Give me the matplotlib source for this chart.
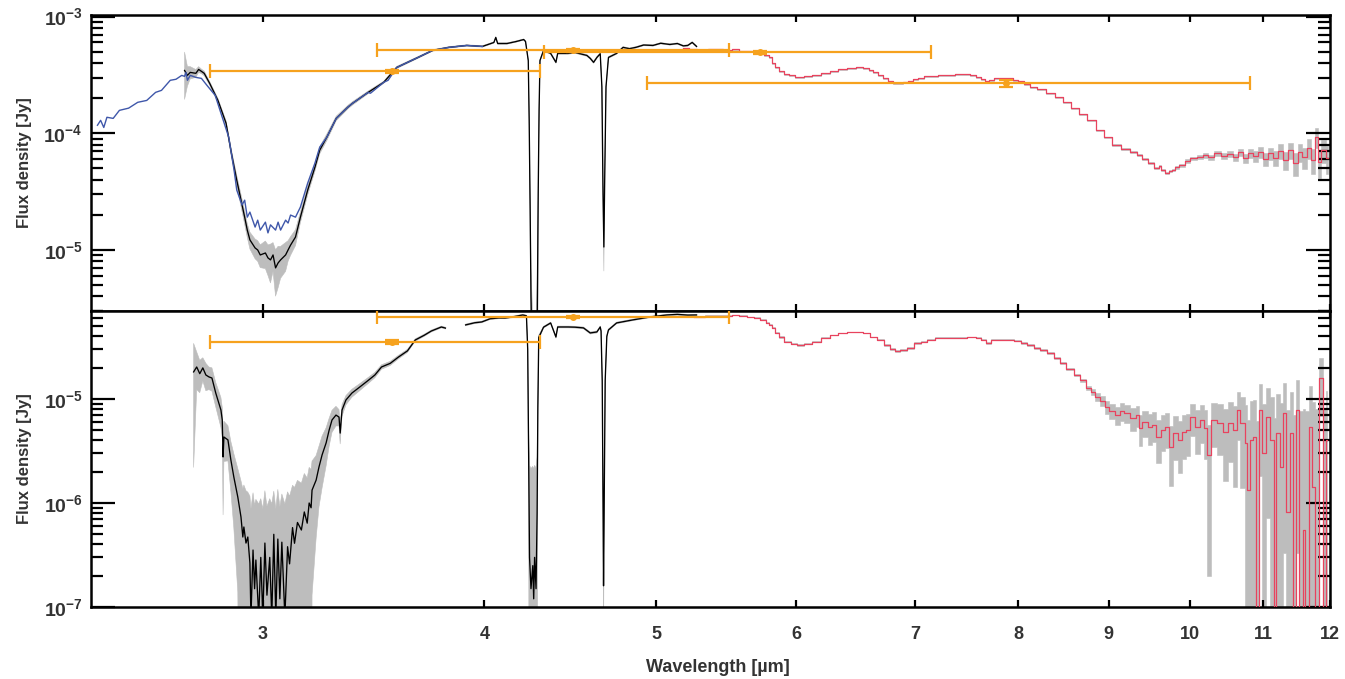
import numpy as np
import matplotlib
matplotlib.use("Agg")
import matplotlib.pyplot as plt
from matplotlib.ticker import LogLocator, FixedLocator, NullLocator, NullFormatter, LogFormatterMathtext

plt.rcParams['font.family'] = ['Liberation Sans', 'DejaVu Sans']
plt.rcParams['font.weight'] = 'bold'
plt.rcParams['mathtext.fontset'] = 'custom'
plt.rcParams['mathtext.rm'] = 'Liberation Sans:bold'
plt.rcParams['mathtext.bf'] = 'Liberation Sans:bold'
plt.rcParams['mathtext.default'] = 'rm'

# ---------------- top panel ----------------
top_blue_wl = [2.42, 2.43, 2.44, 2.45, 2.47, 2.49, 2.52, 2.55, 2.58, 2.61,
               2.63, 2.66, 2.68, 2.70, 2.71, 2.715, 2.72, 2.73, 2.75, 2.77,
               2.79, 2.82, 2.84, 2.87, 2.89, 2.90, 2.92, 2.93, 2.94, 2.95,
               2.97, 2.98, 2.99, 3.01, 3.02, 3.03, 3.05, 3.06, 3.07, 3.09,
               3.10, 3.11, 3.13, 3.15, 3.18, 3.21, 3.23, 3.26, 3.30, 3.35,
               3.37, 3.44, 3.45, 3.51, 3.53, 3.57, 3.67, 3.74, 3.82, 3.91, 3.99]
top_blue_flux = [1.17e-4, 1.29e-4, 1.12e-4, 1.37e-4, 1.34e-4, 1.57e-4, 1.64e-4, 1.84e-4, 1.91e-4, 2.24e-4,
                 2.33e-4, 2.84e-4, 2.90e-4, 3.13e-4, 3.07e-4, 3.32e-4, 2.84e-4, 3.13e-4, 3.01e-4, 2.95e-4,
                 2.57e-4, 2.11e-4, 1.51e-4, 9.25e-5, 4.83e-5, 3.26e-5, 2.43e-5, 2.67e-5, 1.91e-5, 2.11e-5,
                 1.57e-5, 1.80e-5, 1.48e-5, 1.73e-5, 1.40e-5, 1.64e-5, 1.48e-5, 1.73e-5, 1.48e-5, 1.80e-5,
                 1.70e-5, 1.99e-5, 1.91e-5, 2.33e-5, 3.74e-5, 5.54e-5, 7.59e-5, 9.25e-5, 1.34e-4, 1.67e-4,
                 1.80e-4, 2.24e-4, 2.20e-4, 2.73e-4, 2.84e-4, 3.66e-4, 4.46e-4, 5.12e-4, 5.44e-4, 5.65e-4, 5.54e-4]

top_black_wl = [2.71, 2.72, 2.73, 2.75, 2.76, 2.77, 2.78, 2.79, 2.80, 2.83,
                2.86, 2.88, 2.90, 2.93, 2.94, 2.95, 2.97, 2.98, 2.99, 3.01,
                3.02, 3.03, 3.04, 3.05, 3.06, 3.07, 3.09, 3.10, 3.11, 3.13,
                3.15, 3.18, 3.21, 3.23, 3.26, 3.30, 3.35, 3.37, 3.44, 3.51,
                3.57, 3.67, 3.74, 3.82, 3.91, 3.99, 4.05, 4.06, 4.07, 4.12,
                4.17, 4.21, 4.22, 4.235, 4.24, 4.245, 4.25, 4.26, 4.27, 4.28,
                4.285, 4.29, 4.295, 4.30, 4.32, 4.36, 4.39, 4.40, 4.46, 4.50,
                4.57, 4.59, 4.61, 4.63, 4.65, 4.66, 4.667, 4.672, 4.677, 4.685,
                4.70, 4.75, 4.79, 4.83, 4.87, 4.92, 4.98, 5.03, 5.09, 5.14,
                5.18, 5.21, 5.24, 5.27]
top_black_flux = [3.45e-4, 3.13e-4, 3.32e-4, 3.26e-4, 3.52e-4, 3.39e-4, 3.26e-4, 2.95e-4, 2.67e-4, 1.91e-4,
                  1.22e-4, 6.74e-5, 3.96e-5, 1.91e-5, 1.48e-5, 1.22e-5, 1.04e-5, 1.00e-5, 9.06e-6, 9.42e-6,
                  8.55e-6, 8.22e-6, 9.06e-6, 7.02e-6, 7.74e-6, 8.22e-6, 9.06e-6, 1.00e-5, 1.10e-5, 1.29e-5,
                  1.91e-5, 3.26e-5, 5.12e-5, 7.16e-5, 9.25e-5, 1.34e-4, 1.67e-4, 1.80e-4, 2.24e-4, 2.73e-4,
                  3.66e-4, 4.46e-4, 5.12e-4, 5.44e-4, 5.65e-4, 5.54e-4, 5.99e-4, 6.62e-4, 5.87e-4, 5.87e-4,
                  6.11e-4, 6.35e-4, 6.11e-4, 4.2e-4, 1.3e-4, 2.5e-5, 4.0e-6, 6.0e-7, 1.5e-7, 5.0e-7,
                  3.0e-6, 3.0e-5, 1.6e-4, 4.2e-4, 5.12e-4, 4.83e-4, 4.05e-4, 4.83e-4, 4.83e-4, 4.92e-4,
                  4.64e-4, 4.38e-4, 4.05e-4, 4.46e-4, 4.8e-4, 2.5e-4, 3.0e-5, 1.06e-5, 4.0e-5, 2.5e-4,
                  4.46e-4, 4.83e-4, 5.44e-4, 5.3e-4, 5.44e-4, 5.7e-4, 5.65e-4, 5.9e-4, 5.76e-4, 5.87e-4,
                  5.6e-4, 5.65e-4, 6.0e-4, 5.54e-4]
top_black_err = [1.5e-4, 6e-5, 4e-5, 2.5e-5, 2e-5, 1.5e-5, 1.5e-5, 1.2e-5, 1e-5, 8e-6,
                 6e-6, 5e-6, 4e-6, 2.5e-6, 2e-6, 2e-6, 2e-6, 2e-6, 2e-6, 2.5e-6,
                 2.5e-6, 3e-6, 2.5e-6, 3e-6, 3e-6, 2.5e-6, 2.5e-6, 2e-6, 2e-6, 2e-6,
                 2e-6, 3e-6, 4e-6, 5e-6, 6e-6, 6e-6, 6e-6, 6e-6, 6e-6, 6e-6,
                 8e-6, 8e-6, 8e-6, 8e-6, 8e-6, 8e-6, 8e-6, 8e-6, 8e-6, 8e-6,
                 8e-6, 8e-6, 8e-6, 8e-6, 8e-6, 5e-6, 3e-6, 2e-6, 2e-6, 2e-6,
                 3e-6, 5e-6, 8e-6, 8e-6, 8e-6, 8e-6, 8e-6, 8e-6, 8e-6, 8e-6,
                 8e-6, 8e-6, 8e-6, 8e-6, 8e-6, 8e-6, 5e-6, 4e-6, 5e-6, 8e-6,
                 8e-6, 8e-6, 8e-6, 8e-6, 8e-6, 8e-6, 8e-6, 8e-6, 8e-6, 8e-6,
                 8e-6, 8e-6, 8e-6, 8e-6]

top_red_wl = [5.18, 5.25, 5.29, 5.41, 5.50, 5.53, 5.60, 5.65, 5.72, 5.78,
              5.80, 5.82, 5.85, 5.88, 5.93, 5.95, 6.03, 6.09, 6.16, 6.23,
              6.30, 6.37, 6.44, 6.52, 6.57, 6.61, 6.65, 6.69, 6.74, 6.78,
              6.82, 6.87, 6.91, 6.96, 7.00, 7.05, 7.11, 7.17, 7.25, 7.33,
              7.42, 7.49, 7.55, 7.60, 7.65, 7.69, 7.72, 7.79, 7.85, 7.92,
              7.97, 8.03, 8.10, 8.16, 8.24, 8.35, 8.43, 8.53, 8.62, 8.71,
              8.79, 8.91, 8.98, 9.10, 9.20, 9.30, 9.37, 9.44, 9.50, 9.59,
              9.62, 9.66, 9.72, 9.75, 9.79, 9.84, 9.88, 9.92, 9.97, 10.05,
              10.14, 10.20, 10.27, 10.37, 10.45, 10.55, 10.62, 10.68, 10.75, 10.82,
              10.89, 10.96, 11.03, 11.10, 11.18, 11.25, 11.32, 11.39, 11.47, 11.54,
              11.61, 11.68, 11.73, 11.79, 11.83, 11.90, 11.97]
top_red_flux = [5.33e-4, 5.22e-4, 5.12e-4, 5.22e-4, 5.12e-4, 5.22e-4, 5.02e-4, 5.02e-4, 4.92e-4, 4.64e-4,
                4.46e-4, 3.97e-4, 3.66e-4, 3.39e-4, 3.19e-4, 3.13e-4, 3.01e-4, 3.07e-4, 3.13e-4, 3.26e-4,
                3.39e-4, 3.52e-4, 3.60e-4, 3.66e-4, 3.60e-4, 3.45e-4, 3.32e-4, 3.13e-4, 2.95e-4, 2.78e-4,
                2.67e-4, 2.67e-4, 2.73e-4, 2.78e-4, 2.90e-4, 2.95e-4, 3.07e-4, 3.07e-4, 3.13e-4, 3.13e-4,
                3.19e-4, 3.19e-4, 3.13e-4, 3.01e-4, 2.90e-4, 2.78e-4, 2.84e-4, 2.95e-4, 2.95e-4, 2.95e-4,
                2.84e-4, 2.78e-4, 2.62e-4, 2.47e-4, 2.38e-4, 2.20e-4, 2.03e-4, 1.84e-4, 1.64e-4, 1.45e-4,
                1.29e-4, 1.06e-4, 9.25e-5, 7.89e-5, 7.30e-5, 6.88e-5, 6.49e-5, 6.00e-5, 5.54e-5, 5.02e-5,
                5.22e-5, 4.83e-5, 4.55e-5, 4.73e-5, 4.83e-5, 5.12e-5, 5.33e-5, 5.33e-5, 5.77e-5, 6.11e-5,
                6.24e-5, 6.49e-5, 6.24e-5, 6.74e-5, 6.36e-5, 6.62e-5, 6.24e-5, 6.88e-5, 6.11e-5, 6.74e-5,
                6.36e-5, 6.88e-5, 6.00e-5, 6.74e-5, 6.11e-5, 7.02e-5, 5.88e-5, 7.16e-5, 5.54e-5, 6.88e-5,
                6.24e-5, 7.44e-5, 5.88e-5, 9.25e-5, 5.65e-5, 7.16e-5, 6.11e-5]
top_red_err = [5e-6, 5e-6, 5e-6, 5e-6, 5e-6, 5e-6, 5e-6, 5e-6, 5e-6, 5e-6,
               4e-6, 4e-6, 4e-6, 4e-6, 3e-6, 3e-6, 3e-6, 3e-6, 3e-6, 3e-6,
               3e-6, 3e-6, 3e-6, 3e-6, 3e-6, 3e-6, 3e-6, 3e-6, 3e-6, 3e-6,
               3e-6, 3e-6, 3e-6, 3e-6, 3e-6, 3e-6, 3e-6, 3e-6, 3e-6, 3e-6,
               3e-6, 3e-6, 3e-6, 3e-6, 3e-6, 3e-6, 3e-6, 3e-6, 3e-6, 3e-6,
               3e-6, 3e-6, 3e-6, 2.5e-6, 2.5e-6, 2.5e-6, 2e-6, 2e-6, 2e-6, 1.5e-6,
               1.5e-6, 1.5e-6, 1.2e-6, 1.2e-6, 1.2e-6, 1.2e-6, 1.2e-6, 1.2e-6, 1.2e-6, 1.2e-6,
               1.2e-6, 1.2e-6, 1.2e-6, 1.2e-6, 1.2e-6, 1.5e-6, 1.5e-6, 1.5e-6, 2e-6, 2e-6,
               2.5e-6, 3e-6, 3e-6, 3.5e-6, 3.5e-6, 4e-6, 4.5e-6, 5e-6, 5.5e-6, 6e-6,
               7e-6, 7e-6, 8e-6, 8e-6, 9e-6, 1.0e-5, 1.0e-5, 1.1e-5, 1.2e-5, 1.2e-5,
               1.3e-5, 1.4e-5, 1.4e-5, 1.8e-5, 1.5e-5, 1.6e-5, 1.6e-5]

# ---------------- bottom panel ----------------
bot_black_wl = [2.742, 2.753, 2.764, 2.775, 2.786, 2.797, 2.808, 2.822, 2.841, 2.846,
                2.849, 2.852, 2.867, 2.878, 2.889, 2.904, 2.916, 2.923, 2.927, 2.935,
                2.942, 2.950, 2.954, 2.962, 2.968, 2.973, 2.984, 2.992, 3.000, 3.008,
                3.016, 3.027, 3.035, 3.043, 3.051, 3.059, 3.067, 3.075, 3.087, 3.098,
                3.106, 3.118, 3.126, 3.138, 3.154, 3.166, 3.178, 3.186, 3.194, 3.198,
                3.215, 3.227, 3.240, 3.257, 3.270, 3.282, 3.299, 3.312, 3.317, 3.325,
                3.342, 3.368, 3.398, 3.442, 3.47, 3.50, 3.54, 3.578, 3.62, 3.657,
                3.70, 3.734, 3.783, 3.803, 3.85, 3.904, 3.95, 3.987, 4.03, 4.077,
                4.11, 4.149, 4.205, 4.225, 4.232, 4.237, 4.242, 4.25, 4.26, 4.265,
                4.27, 4.278, 4.284, 4.288, 4.293, 4.32, 4.36, 4.39, 4.40, 4.46,
                4.50, 4.55, 4.59, 4.63, 4.65, 4.655, 4.662, 4.667, 4.670, 4.674,
                4.68, 4.69, 4.70, 4.75, 4.85, 4.96, 5.07, 5.14, 5.21, 5.27]
bot_black_flux = [1.82e-5, 2.03e-5, 1.75e-5, 1.99e-5, 1.70e-5, 1.63e-5, 1.59e-5, 1.14e-5, 7.83e-6, 6.28e-6,
                  2.77e-6, 4.31e-6, 4.04e-6, 2.59e-6, 1.78e-6, 1.14e-6, 7.33e-7, 4.71e-7, 5.88e-7, 4.12e-7,
                  4.71e-7, 2.65e-7, 8e-8, 3.53e-7, 1.5e-7, 2.83e-7, 8e-8, 3.0e-7, 8e-8, 4.12e-7,
                  1.3e-7, 3.0e-7, 8e-8, 5.0e-7, 8e-8, 4.5e-7, 1.2e-7, 4.2e-7, 8e-8, 3.8e-7,
                  2.6e-7, 5.8e-7, 4.1e-7, 6.5e-7, 5.5e-7, 8.2e-7, 6.4e-7, 1.0e-6, 9.0e-7, 1.33e-6,
                  1.66e-6, 2.22e-6, 2.90e-6, 3.78e-6, 5.04e-6, 6.28e-6, 7.0e-6, 6.7e-6, 4.7e-6, 7.83e-6,
                  9.78e-6, 1.14e-5, 1.28e-5, 1.52e-5, 1.70e-5, 2.03e-5, 2.2e-5, 2.53e-5, 2.9e-5, 3.69e-5,
                  4.1e-5, 4.5e-5, 4.92e-5, 4.8e-5, np.nan, 5.15e-5, 5.4e-5, 5.50e-5, 5.9e-5, 6.01e-5,
                  6.0e-5, 6.14e-5, 6.42e-5, 6.3e-5, 3e-5, 3e-6, 3e-7, 1.5e-7, 2.5e-7, 1.2e-7,
                  3e-7, 1.5e-7, 8e-7, 8e-6, 3.9e-5, 4.9e-5, 5.38e-5, 3.94e-5, 4.92e-5, 4.92e-5,
                  4.9e-5, 4.82e-5, 4.31e-5, 4.41e-5, 4.92e-5, 4.5e-5, 1.5e-5, 1e-6, 1.6e-7, 1e-6,
                  1.5e-5, 4.0e-5, 4.61e-5, 5.38e-5, 5.75e-5, 6.14e-5, 6.42e-5, 6.5e-5, 6.4e-5, 6.42e-5]
bot_black_err = [1.6e-5, 8e-6, 6e-6, 5e-6, 5e-6, 4e-6, 4e-6, 3e-6, 2.5e-6, 2e-6,
                 2e-6, 1.8e-6, 1.5e-6, 1.3e-6, 1.2e-6, 1.0e-6, 9e-7, 9e-7, 9e-7, 9e-7,
                 8e-7, 9e-7, 8e-7, 9e-7, 8e-7, 8e-7, 9e-7, 8e-7, 8e-7, 9e-7,
                 8e-7, 8e-7, 9e-7, 8e-7, 8e-7, 9e-7, 8e-7, 8e-7, 9e-7, 9e-7,
                 9e-7, 9e-7, 1.0e-6, 1.0e-6, 1.0e-6, 1.1e-6, 1.1e-6, 1.2e-6, 1.2e-6, 1.2e-6,
                 1.2e-6, 1.3e-6, 1.5e-6, 1.5e-6, 1.5e-6, 1.5e-6, 1.5e-6, 1.2e-6, 1e-6, 1e-6,
                 1e-6, 1e-6, 1e-6, 1e-6, 1e-6, 1e-6, 1e-6, 1e-6, 1e-6, 1e-6,
                 1e-6, 1e-6, 1e-6, 1e-6, np.nan, 1e-6, 1e-6, 1e-6, 1e-6, 1e-6,
                 1e-6, 1e-6, 1e-6, 1e-6, 2e-6, 2e-6, 2e-6, 2e-6, 2e-6, 2e-6,
                 2e-6, 2e-6, 2e-6, 2e-6, 2e-6, 1e-6, 1e-6, 1e-6, 1e-6, 1e-6,
                 1e-6, 1e-6, 1e-6, 1e-6, 1e-6, 1e-6, 1e-6, 3e-7, 1.2e-7, 3e-7,
                 1e-6, 1e-6, 1e-6, 1e-6, 1e-6, 1e-6, 1e-6, 1e-6, 1e-6, 1e-6]

bot_red_wl = [5.25, 5.41, 5.50, 5.53, 5.60, 5.65, 5.70, 5.75, 5.78, 5.80,
              5.82, 5.85, 5.88, 5.93, 5.98, 6.03, 6.09, 6.16, 6.23, 6.30,
              6.37, 6.44, 6.52, 6.57, 6.63, 6.69, 6.75, 6.80, 6.83, 6.89,
              6.96, 7.02, 7.08, 7.14, 7.23, 7.33, 7.47, 7.50, 7.55, 7.60,
              7.65, 7.70, 7.75, 7.82, 7.92, 8.00, 8.06, 8.13, 8.20, 8.27,
              8.35, 8.42, 8.48, 8.56, 8.64, 8.71, 8.76, 8.83, 8.86, 8.93,
              8.98, 9.04, 9.10, 9.16, 9.21, 9.30, 9.35, 9.37, 9.44, 9.50,
              9.55, 9.60, 9.66, 9.71, 9.75, 9.81, 9.88, 9.93, 9.97, 10.04,
              10.10, 10.17, 10.21, 10.25, 10.31, 10.41, 10.47, 10.54, 10.61, 10.65,
              10.71, 10.77, 10.78, 10.84, 10.88, 10.92, 10.95, 11.02, 11.07, 11.13,
              11.17, 11.21, 11.27, 11.31, 11.36, 11.42, 11.46, 11.50, 11.56, 11.60,
              11.64, 11.70, 11.75, 11.79, 11.86, 11.91, 11.95]
bot_red_flux = [6.14e-5, 6.29e-5, 6.29e-5, 6.42e-5, 6.29e-5, 6.14e-5, 6.01e-5, 5.75e-5, 5.38e-5, 5.15e-5,
                4.82e-5, 4.31e-5, 3.94e-5, 3.53e-5, 3.38e-5, 3.30e-5, 3.38e-5, 3.53e-5, 3.86e-5, 4.12e-5,
                4.31e-5, 4.41e-5, 4.41e-5, 4.31e-5, 3.94e-5, 3.69e-5, 3.30e-5, 3.02e-5, 2.89e-5, 2.96e-5,
                3.09e-5, 3.45e-5, 3.53e-5, 3.69e-5, 3.86e-5, 3.86e-5, 3.86e-5, 3.94e-5, 3.94e-5, 3.86e-5,
                3.69e-5, 3.45e-5, 3.69e-5, 3.69e-5, 3.69e-5, 3.61e-5, 3.45e-5, 3.30e-5, 3.09e-5, 2.96e-5,
                2.77e-5, 2.48e-5, 2.22e-5, 1.94e-5, 1.70e-5, 1.52e-5, 1.28e-5, 1.17e-5, 1.05e-5, 9.57e-6,
                8.37e-6, 7.67e-6, 7.02e-6, 7.67e-6, 7.33e-6, 6.56e-6, 7.02e-6, 5.26e-6, 6.01e-6, 5.38e-6,
                5.62e-6, 4.31e-6, 5.04e-6, 5.38e-6, 3.46e-6, 4.71e-6, 4.04e-6, 4.82e-6, 5.04e-6, 6.71e-6,
                5.38e-6, 6.28e-6, 5.26e-6, 2.90e-6, 6.28e-6, 5.88e-6, 4.82e-6, 5.88e-6, 5.04e-6, 7.83e-6,
                5.88e-6, 3.78e-6, 1.33e-6, 4.04e-6, 4.31e-6, 8e-8, 7.83e-6, 3.03e-6, 6.71e-6, 4.04e-6,
                8e-8, 4.71e-6, 2.22e-6, 7.33e-6, 8.19e-7, 4.71e-6, 8e-8, 7.83e-6, 8e-8, 5.50e-7,
                8e-8, 5.38e-6, 1.42e-6, 8e-8, 1.59e-5, 8e-8, 4.04e-6]
bot_red_err = [6e-7, 6e-7, 6e-7, 6e-7, 6e-7, 6e-7, 6e-7, 6e-7, 6e-7, 6e-7,
               5e-7, 5e-7, 5e-7, 4e-7, 4e-7, 4e-7, 4e-7, 4e-7, 4e-7, 4e-7,
               4e-7, 4e-7, 4e-7, 4e-7, 4e-7, 4e-7, 4e-7, 4e-7, 4e-7, 4e-7,
               4e-7, 4e-7, 4e-7, 4e-7, 4e-7, 4e-7, 4e-7, 4e-7, 4e-7, 4e-7,
               4e-7, 4e-7, 4e-7, 4e-7, 4e-7, 4e-7, 4e-7, 4e-7, 4e-7, 4e-7,
               4e-7, 4e-7, 4e-7, 4e-7, 5e-7, 5e-7, 6e-7, 8e-7, 1.0e-6, 1.1e-6,
               1.2e-6, 1.3e-6, 1.4e-6, 1.5e-6, 1.5e-6, 1.6e-6, 1.6e-6, 1.7e-6, 1.7e-6, 1.8e-6,
               1.8e-6, 1.9e-6, 1.9e-6, 2.0e-6, 2.0e-6, 2.1e-6, 2.1e-6, 2.2e-6, 2.2e-6, 2.3e-6,
               2.4e-6, 2.5e-6, 2.6e-6, 2.7e-6, 2.8e-6, 3.0e-6, 3.2e-6, 3.4e-6, 3.6e-6, 3.8e-6,
               4.5e-6, 5e-6, 5e-6, 5.5e-6, 5.5e-6, 6e-6, 6e-6, 6e-6, 6e-6, 6.5e-6,
               6.5e-6, 6.5e-6, 7e-6, 7e-6, 7e-6, 7e-6, 7e-6, 7.5e-6, 7.5e-6, 7.5e-6,
               7.5e-6, 8e-6, 8e-6, 8e-6, 9e-6, 8e-6, 8e-6]

# ---------------- photometry ----------------
top_phot_wl = [3.55, 4.49, 5.72, 7.88]
top_phot_lo = [2.80, 3.48, 4.32, 4.94]
top_phot_hi = [4.30, 5.50, 7.15, 10.81]
top_phot_flux = [3.39e-4, 5.12e-4, 4.92e-4, 2.67e-4]
top_phot_err = [1.0e-5, 1.2e-5, 1.2e-5, 1.8e-5]

bot_phot_wl = [3.55, 4.49]
bot_phot_lo = [2.80, 3.48]
bot_phot_hi = [4.30, 5.50]
bot_phot_flux = [3.53e-5, 6.14e-5]
bot_phot_err = [1.2e-6, 1.8e-6]

BLACK = 'black'
GRAY = '#bdbdbd'
BLUE = '#3f57aa'
RED = '#e8435e'
ORANGE = '#f6a21e'
TXT = '#333333'


def band(ax, wl, flux, err, step=None):
    wl = np.array(wl)
    flux = np.array(flux)
    err = np.array(err)
    lo = np.clip(flux - err, 1e-10, None)
    hi = flux + err
    ax.fill_between(wl, lo, hi, color=GRAY, lw=0.4, edgecolor=GRAY, step=step, zorder=1)


def phot(ax, wl, lo, hi, flux, err):
    wl = np.array(wl)
    xerr = [wl - np.array(lo), np.array(hi) - wl]
    ax.errorbar(wl, flux, xerr=xerr, yerr=err, fmt='o', ms=4, color=ORANGE,
                elinewidth=1.6, capsize=4.7, capthick=1.6, zorder=6)


def style(ax, ymin, ymax, show_x):
    ax.set_xscale('log')
    ax.set_yscale('log')
    ax.set_xlim(2.40, 12.0)
    ax.set_ylim(ymin, ymax)
    ax.xaxis.set_major_locator(FixedLocator([3, 4, 5, 6, 7, 8, 9, 10, 11, 12]))
    ax.xaxis.set_minor_locator(NullLocator())
    ax.xaxis.set_minor_formatter(NullFormatter())
    if show_x:
        ax.set_xticklabels(['3', '4', '5', '6', '7', '8', '9', '10', '11', '12'])
    else:
        ax.set_xticklabels([])
    ax.yaxis.set_major_locator(LogLocator(base=10))
    ax.yaxis.set_minor_locator(LogLocator(base=10, subs=np.arange(2, 10)))
    ax.yaxis.set_major_formatter(LogFormatterMathtext())
    ax.yaxis.set_minor_formatter(NullFormatter())
    ax.tick_params(axis='x', which='major', direction='in', length=5, width=1.6,
                   top=True, bottom=True, pad=14, labelsize=13, labelcolor=TXT)
    ax.tick_params(axis='y', which='major', direction='in', length=17, width=1.6,
                   left=True, right=True, pad=6, labelsize=14, labelcolor=TXT)
    ax.tick_params(axis='y', which='minor', direction='in', length=8.5, width=1.6,
                   left=True, right=True)
    for sp in ax.spines.values():
        sp.set_linewidth(1.8)
    ax.set_ylabel('Flux density [Jy]', fontsize=12, fontweight='bold', color=TXT)
    ax.yaxis.set_label_coords(-0.048, 0.5)


fig = plt.figure(figsize=(13.45, 6.79), dpi=100)
ax1 = fig.add_axes([0.0677, 0.5420, 0.9212, 0.4359])
ax2 = fig.add_axes([0.0677, 0.1060, 0.9212, 0.4359])

# top panel
band(ax1, top_black_wl, top_black_flux, top_black_err)
band(ax1, top_red_wl, top_red_flux, top_red_err, step='mid')
ax1.plot(top_black_wl, top_black_flux, color=BLACK, lw=0.95, zorder=3)
ax1.plot(top_blue_wl, top_blue_flux, color=BLUE, lw=1.0, zorder=4)
ax1.plot(top_red_wl, top_red_flux, color=RED, lw=0.9, drawstyle='steps-mid', zorder=4)
phot(ax1, top_phot_wl, top_phot_lo, top_phot_hi, top_phot_flux, top_phot_err)
style(ax1, 3.0e-6, 1.03e-3, False)

# bottom panel
band(ax2, bot_black_wl, bot_black_flux, bot_black_err)
band(ax2, bot_red_wl, bot_red_flux, bot_red_err, step='mid')
ax2.plot(bot_black_wl, bot_black_flux, color=BLACK, lw=0.95, zorder=3)
ax2.plot(bot_red_wl, bot_red_flux, color=RED, lw=0.9, drawstyle='steps-mid', zorder=4)
phot(ax2, bot_phot_wl, bot_phot_lo, bot_phot_hi, bot_phot_flux, bot_phot_err)
style(ax2, 1.0e-7, 7.0e-5, True)
ax2.set_xlabel('Wavelength [µm]', fontsize=13, fontweight='bold', color=TXT)
ax2.xaxis.set_label_coords(0.506, -0.175)

fig.savefig('out.png', dpi=100)
